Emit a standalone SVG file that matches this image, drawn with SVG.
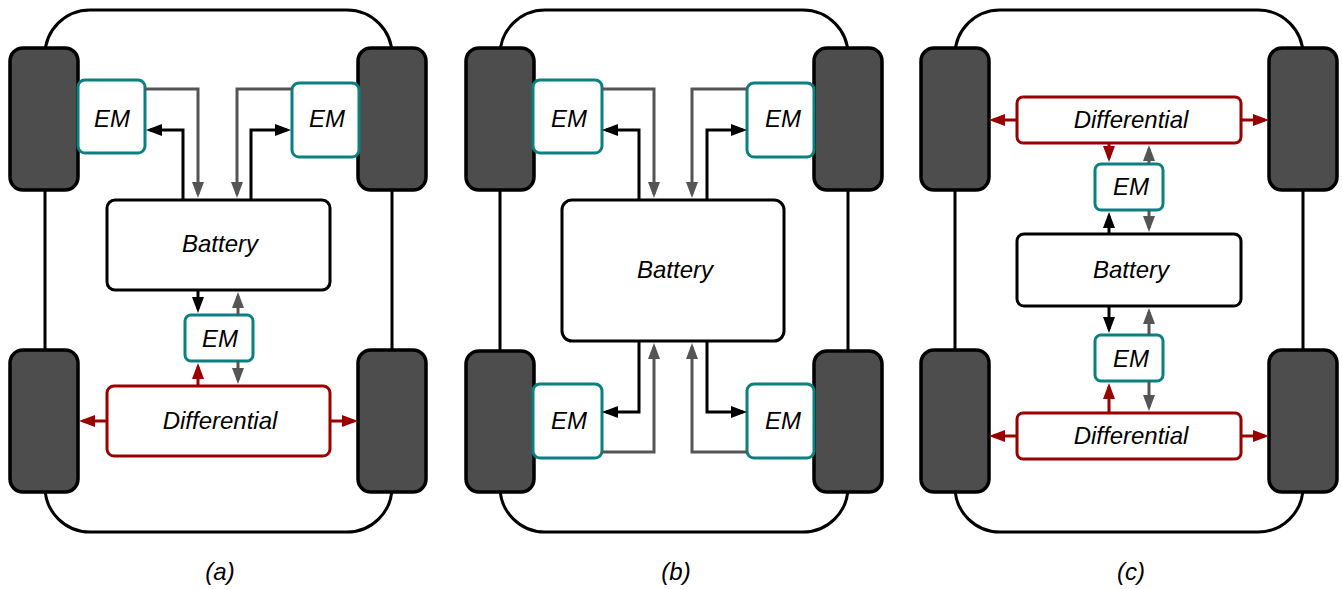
<svg xmlns="http://www.w3.org/2000/svg" width="1342" height="589" viewBox="0 0 1342 589">
<style>
.body{fill:none;stroke:#000;stroke-width:3}
.wheel{fill:#4d4d4d;stroke:#000;stroke-width:3.5}
.em{fill:#fff;stroke:#0b8080;stroke-width:3}
.bat{fill:#fff;stroke:#000;stroke-width:3}
.diff{fill:#fff;stroke:#990000;stroke-width:3}
.lk{fill:none;stroke:#000;stroke-width:3;marker-end:url(#ak)}
.lg{fill:none;stroke:#555;stroke-width:3;marker-end:url(#ag)}
.lr{fill:none;stroke:#990000;stroke-width:3;marker-end:url(#ar)}
text{font-family:"Liberation Sans",Arial,sans-serif;font-style:italic;font-size:24px;text-anchor:middle;fill:#000}
</style>
<defs>
<marker id="ak" markerUnits="userSpaceOnUse" markerWidth="16" markerHeight="12" refX="12" refY="6" orient="auto"><path d="M0,0 L16,6 L0,12 z" fill="#000"/></marker>
<marker id="ag" markerUnits="userSpaceOnUse" markerWidth="16" markerHeight="12" refX="12" refY="6" orient="auto"><path d="M0,0 L16,6 L0,12 z" fill="#555"/></marker>
<marker id="ar" markerUnits="userSpaceOnUse" markerWidth="16" markerHeight="12" refX="12" refY="6" orient="auto"><path d="M0,0 L16,6 L0,12 z" fill="#990000"/></marker>
</defs>

<!-- Panel (a) -->
<g id="a-body"><rect class="body" x="45" y="10" width="347" height="522" rx="45"/></g>
<g id="a-wheels">
<rect class="wheel" x="10" y="48" width="68" height="142" rx="13"/>
<rect class="wheel" x="358" y="48" width="68" height="142" rx="13"/>
<rect class="wheel" x="10" y="350" width="68" height="142" rx="13"/>
<rect class="wheel" x="358" y="350" width="68" height="142" rx="13"/>
</g>
<g id="a-em-tl"><rect class="em" x="78" y="80" width="67" height="73" rx="7"/><text x="112" y="127">EM</text></g>
<g id="a-em-tr"><rect class="em" x="292" y="83" width="67" height="74" rx="7"/><text x="327" y="127">EM</text></g>
<g id="a-battery"><rect class="bat" x="107" y="200" width="223" height="90" rx="8"/><text x="220" y="252">Battery</text></g>
<g id="a-em-c"><rect class="em" x="185" y="315" width="68" height="46" rx="6"/><text x="220" y="347">EM</text></g>
<g id="a-diff"><rect class="diff" x="107" y="386" width="223" height="70" rx="7"/><text x="220" y="429">Differential</text></g>
<g id="a-connectors">
<path class="lg" d="M145,89 H198 V194"/>
<path class="lk" d="M183,199 V130 H150"/>
<path class="lg" d="M292,89 H237 V194"/>
<path class="lk" d="M251,199 V130 H287"/>
<path class="lk" d="M198,291 V309"/>
<path class="lg" d="M238,315 V296"/>
<path class="lg" d="M238,361 V380"/>
<path class="lr" d="M198,386 V367"/>
<path class="lr" d="M107,421 H83"/>
<path class="lr" d="M330,421 H354"/>
</g>
<text x="220" y="580">(a)</text>

<!-- Panel (b) -->
<g id="b-body"><rect class="body" x="500" y="10" width="348" height="522" rx="45"/></g>
<g id="b-wheels">
<rect class="wheel" x="466" y="48" width="68" height="142" rx="13"/>
<rect class="wheel" x="814" y="48" width="68" height="142" rx="13"/>
<rect class="wheel" x="466" y="351" width="68" height="141" rx="13"/>
<rect class="wheel" x="814" y="351" width="68" height="141" rx="13"/>
</g>
<g id="b-em-tl"><rect class="em" x="533" y="80" width="69" height="73" rx="7"/><text x="569" y="127">EM</text></g>
<g id="b-em-tr"><rect class="em" x="747" y="83" width="67" height="74" rx="7"/><text x="783" y="127">EM</text></g>
<g id="b-battery"><rect class="bat" x="562" y="200" width="222" height="141" rx="10"/><text x="675" y="278">Battery</text></g>
<g id="b-em-bl"><rect class="em" x="533" y="384" width="69" height="74" rx="7"/><text x="569" y="429">EM</text></g>
<g id="b-em-br"><rect class="em" x="747" y="384" width="67" height="74" rx="7"/><text x="783" y="429">EM</text></g>
<g id="b-connectors">
<path class="lg" d="M602,89 H654 V194"/>
<path class="lk" d="M639,199 V130 H606"/>
<path class="lg" d="M747,89 H692 V194"/>
<path class="lk" d="M707,199 V130 H743"/>
<path class="lk" d="M639,342 V412 H606"/>
<path class="lg" d="M602,452 H654 V347"/>
<path class="lg" d="M747,452 H692 V347"/>
<path class="lk" d="M707,342 V412 H743"/>
</g>
<text x="676" y="580">(b)</text>

<!-- Panel (c) -->
<g id="c-body"><rect class="body" x="955" y="10" width="348" height="522" rx="45"/></g>
<g id="c-wheels">
<rect class="wheel" x="921" y="48" width="68" height="142" rx="13"/>
<rect class="wheel" x="1269" y="48" width="68" height="142" rx="13"/>
<rect class="wheel" x="921" y="350" width="68" height="142" rx="13"/>
<rect class="wheel" x="1269" y="350" width="68" height="142" rx="13"/>
</g>
<g id="c-diff-top"><rect class="diff" x="1017" y="97" width="224" height="46" rx="6"/><text x="1131" y="128">Differential</text></g>
<g id="c-em-top"><rect class="em" x="1095" y="164" width="68" height="46" rx="6"/><text x="1131" y="195">EM</text></g>
<g id="c-battery"><rect class="bat" x="1017" y="234" width="224" height="72" rx="7"/><text x="1131" y="278">Battery</text></g>
<g id="c-em-bottom"><rect class="em" x="1095" y="335" width="68" height="46" rx="6"/><text x="1131" y="367">EM</text></g>
<g id="c-diff-bottom"><rect class="diff" x="1017" y="413" width="224" height="46" rx="6"/><text x="1131" y="444">Differential</text></g>
<g id="c-connectors">
<path class="lr" d="M1017,120 H993"/>
<path class="lr" d="M1241,120 H1265"/>
<path class="lr" d="M1109,143 V158"/>
<path class="lg" d="M1149,164 V149"/>
<path class="lg" d="M1149,210 V228"/>
<path class="lk" d="M1109,234 V216"/>
<path class="lk" d="M1109,306 V329"/>
<path class="lg" d="M1149,335 V312"/>
<path class="lg" d="M1149,381 V407"/>
<path class="lr" d="M1109,413 V387"/>
<path class="lr" d="M1017,436 H993"/>
<path class="lr" d="M1241,436 H1265"/>
</g>
<text x="1131" y="580">(c)</text>
</svg>
